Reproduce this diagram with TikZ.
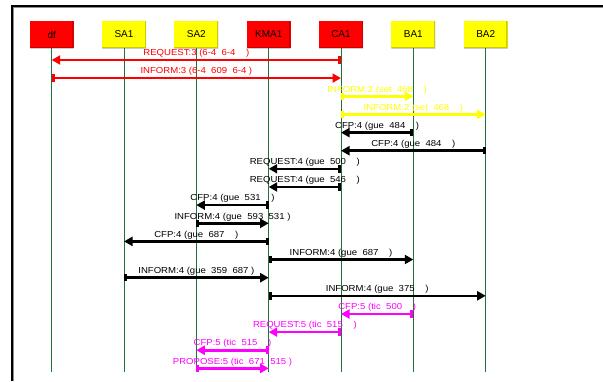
\documentclass[tikz,border=0pt]{standalone}
\usepackage{fontspec}
\setmainfont{Liberation Sans}
\newfontfamily\msgfont{Liberation Sans}[FakeStretch=1.1]
\usetikzlibrary{arrows.meta}
\definecolor{lifegreen}{RGB}{30,115,60}
\definecolor{boxred}{RGB}{255,0,0}
\definecolor{boxyellow}{RGB}{255,255,0}
\definecolor{msgyellow}{RGB}{255,255,0}
\definecolor{msgmagenta}{RGB}{255,0,255}

\tikzset{
	agent/.style={minimum width=44pt, minimum height=27pt, inner sep=0pt,
		font=\fontsize{10}{12}\selectfont,
		path picture={\draw[black, opacity=0.2, line width=3pt]
			(path picture bounding box.north east) -- (path picture bounding box.south east)
			-- (path picture bounding box.south west);}},
	redagent/.style={agent, fill=boxred},
	yellowagent/.style={agent, fill=boxyellow},
	life/.style={lifegreen, line width=1pt},
	msg/.style={line width=2.6pt, {Rectangle[length=3pt,width=7.5pt]}-{Triangle[length=8.5pt,width=9pt]}},
	lbl/.style={anchor=base, yshift=4.3pt, font=\msgfont\fontsize{8.7}{10}\selectfont}
}

\begin{document}
\begin{tikzpicture}[x=1pt, y=-1pt]
	\useasboundingbox (0,0) rectangle (603,381);

	% frame
	\draw[black!45, line width=0.8pt] (13.5,381) -- (13.5,7.5) -- (603,7.5);
	\draw[black, line width=1.5pt] (12,381) -- (12,6) -- (603,6);

	% agents
	\node[redagent] (df) at (51.7,34.5) {df};
	\node[yellowagent] (SA1) at (124.0,34.5) {SA1};
	\node[yellowagent] (SA2) at (196.3,34.5) {SA2};
	\node[redagent] (KMA1) at (268.7,34.5) {KMA1};
	\node[redagent] (CA1) at (341.0,34.5) {CA1};
	\node[yellowagent] (BA1) at (413.3,34.5) {BA1};
	\node[yellowagent] (BA2) at (485.7,34.5) {BA2};

	% lifelines
	\coordinate (bottom) at (0,372);
	\draw[life] (df.south) -- (df |- bottom);
	\draw[life] (SA1.south) -- (SA1 |- bottom);
	\draw[life] (SA2.south) -- (SA2 |- bottom);
	\draw[life] (KMA1.south) -- (KMA1 |- bottom);
	\draw[life] (CA1.south) -- (CA1 |- bottom);
	\draw[life] (BA1.south) -- (BA1 |- bottom);
	\draw[life] (BA2.south) -- (BA2 |- bottom);

	% message rows
	\coordinate (m1) at (0,60);
	\coordinate (m2) at (0,78.1);
	\coordinate (m3) at (0,96.3);
	\coordinate (m4) at (0,114.4);
	\coordinate (m5) at (0,132.6);
	\coordinate (m6) at (0,150.7);
	\coordinate (m7) at (0,168.8);
	\coordinate (m8) at (0,187.0);
	\coordinate (m9) at (0,205.1);
	\coordinate (m10) at (0,223.3);
	\coordinate (m11) at (0,241.4);
	\coordinate (m12) at (0,259.5);
	\coordinate (m13) at (0,277.7);
	\coordinate (m14) at (0,295.8);
	\coordinate (m15) at (0,314.0);
	\coordinate (m16) at (0,332.1);
	\coordinate (m17) at (0,350.2);
	\coordinate (m18) at (0,368.4);

	% messages
	\draw[msg, boxred] (CA1 |- m1) -- node[lbl] {REQUEST:3 (6-4~~6-4~~~~)} (df |- m1);
	\draw[msg, boxred] (df |- m2) -- node[lbl] {INFORM:3 (6-4~~609~~6-4 )} (CA1 |- m2);

	\draw[msg, msgyellow] (CA1 |- m3) -- node[lbl] {INFORM:2 (set~~468~~~~)} (BA1 |- m3);
	\draw[msg, msgyellow] (CA1 |- m4) -- node[lbl] {INFORM:2 (set~~468~~~~)} (BA2 |- m4);

	\draw[msg, black] (BA1 |- m5) -- node[lbl] {CFP:4 (gue~~484~~~~)} (CA1 |- m5);
	\draw[msg, black] (BA2 |- m6) -- node[lbl] {CFP:4 (gue~~484~~~~)} (CA1 |- m6);
	\draw[msg, black] (CA1 |- m7) -- node[lbl] {REQUEST:4 (gue~~500~~~~)} (KMA1 |- m7);
	\draw[msg, black] (CA1 |- m8) -- node[lbl] {REQUEST:4 (gue~~546~~~~)} (KMA1 |- m8);
	\draw[msg, black] (KMA1 |- m9) -- node[lbl] {CFP:4 (gue~~531~~~~)} (SA2 |- m9);
	\draw[msg, black] (SA2 |- m10) -- node[lbl] {INFORM:4 (gue~~593~~531 )} (KMA1 |- m10);
	\draw[msg, black] (KMA1 |- m11) -- node[lbl] {CFP:4 (gue~~687~~~~)} (SA1 |- m11);
	\draw[msg, black] (KMA1 |- m12) -- node[lbl] {INFORM:4 (gue~~687~~~~)} (BA1 |- m12);
	\draw[msg, black] (SA1 |- m13) -- node[lbl] {INFORM:4 (gue~~359~~687 )} (KMA1 |- m13);
	\draw[msg, black] (KMA1 |- m14) -- node[lbl] {INFORM:4 (gue~~375~~~~)} (BA2 |- m14);

	\draw[msg, msgmagenta] (BA1 |- m15) -- node[lbl] {CFP:5 (tic~~500~~~~)} (CA1 |- m15);
	\draw[msg, msgmagenta] (CA1 |- m16) -- node[lbl] {REQUEST:5 (tic~~515~~~~)} (KMA1 |- m16);
	\draw[msg, msgmagenta] (KMA1 |- m17) -- node[lbl] {CFP:5 (tic~~515~~~~)} (SA2 |- m17);
	\draw[msg, msgmagenta] (SA2 |- m18) -- node[lbl] {PROPOSE:5 (tic~~671~~515 )} (KMA1 |- m18);
\end{tikzpicture}
\end{document}
